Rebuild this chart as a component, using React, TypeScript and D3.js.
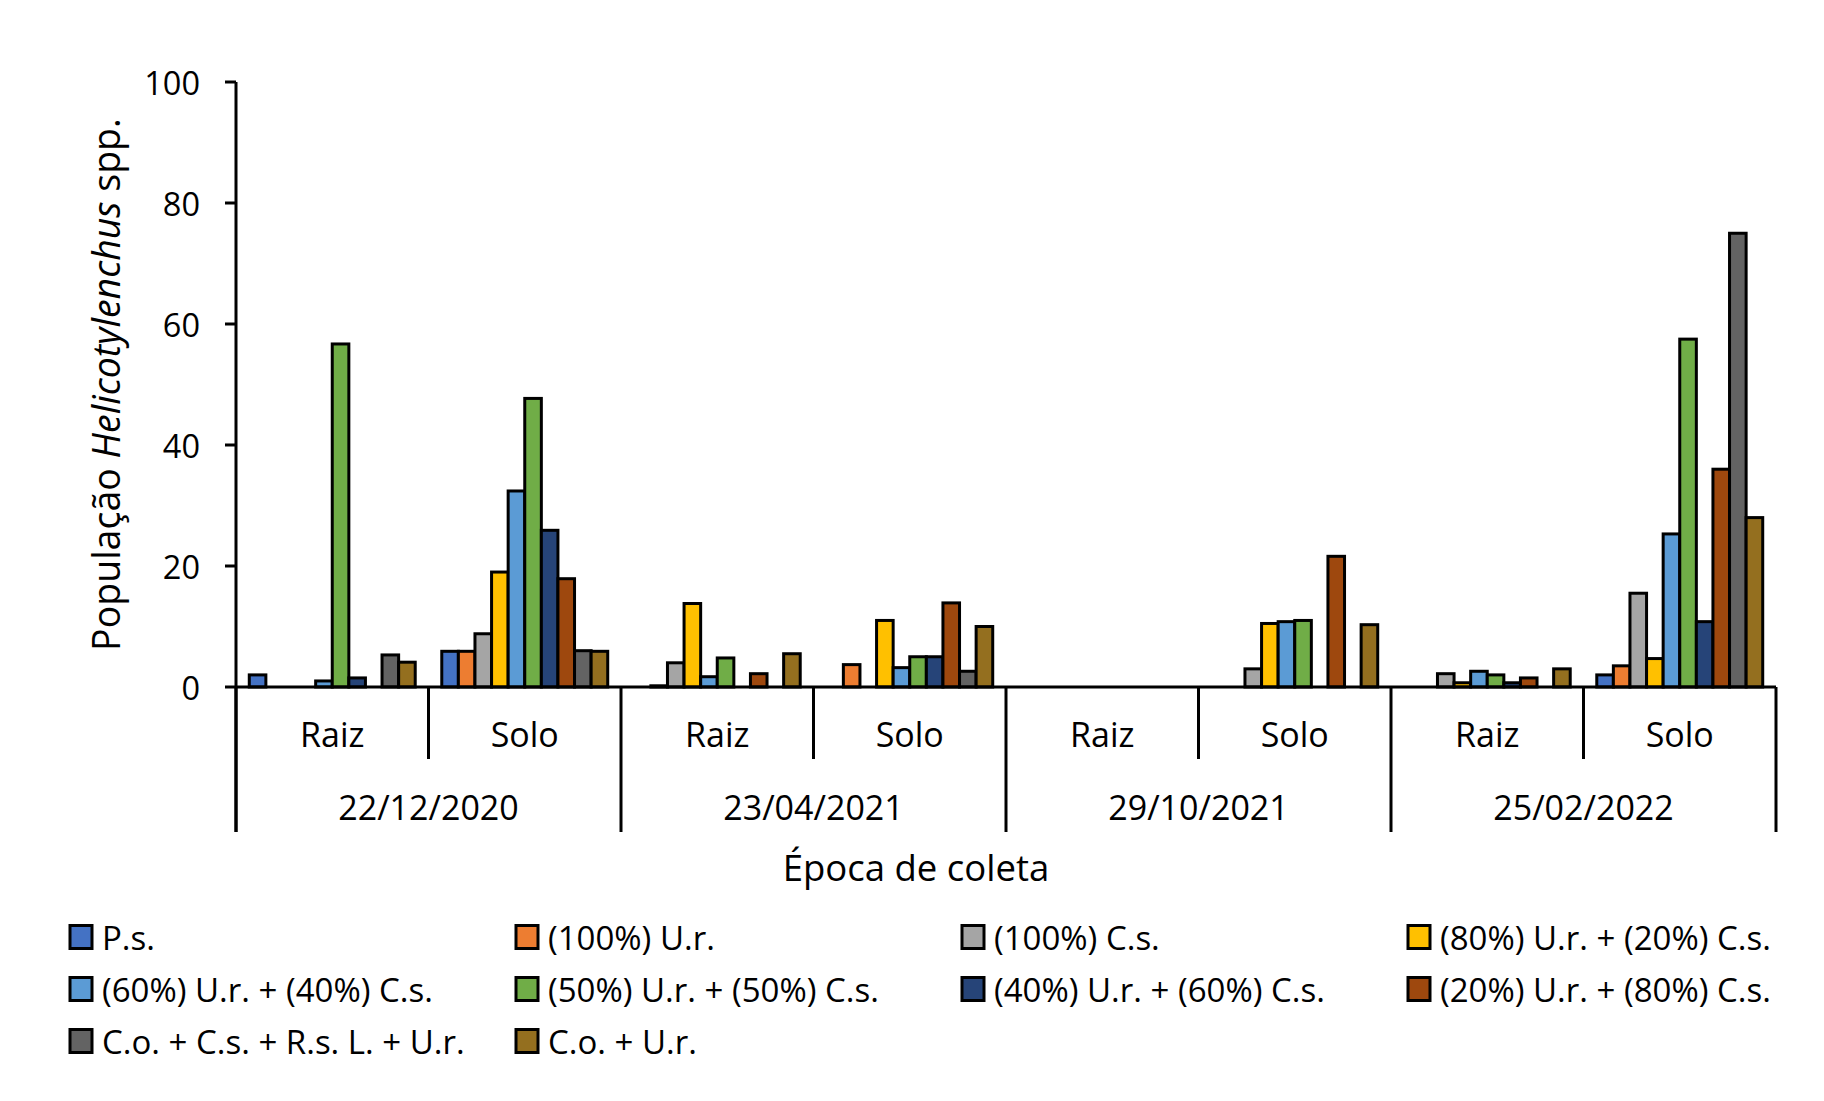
import { useEffect } from 'react';
import * as d3 from 'd3';

// categories
const dates = ['22/12/2020', '23/04/2021', '29/10/2021', '25/02/2022'];
const parts = ['Raiz', 'Solo'];
const yTicks = [0, 20, 40, 60, 80, 100];

// series (one value per date x part: R1, S1, R2, S2, R3, S3, R4, S4)
const seriesNames = [
  'P.s.',
  '(100%) U.r.',
  '(100%) C.s.',
  '(80%) U.r. + (20%) C.s.',
  '(60%) U.r. + (40%) C.s.',
  '(50%) U.r. + (50%) C.s.',
  '(40%) U.r. + (60%) C.s.',
  '(20%) U.r. + (80%) C.s.',
  'C.o. + C.s. + R.s. L. + U.r.',
  'C.o. + U.r.'
];
const seriesColors = [
  '#4472C4',
  '#ED7D31',
  '#A5A5A5',
  '#FFC000',
  '#5B9BD5',
  '#70AD47',
  '#264478',
  '#9E480E',
  '#636363',
  '#946F1F'
];
const psValues = [2, 5.9, 0, 0, 0, 0, 0, 2];
const ur100Values = [0, 5.9, 0.2, 3.7, 0, 0, 0, 3.5];
const cs100Values = [0, 8.8, 4, 0, 0, 3, 2.2, 15.5];
const ur80Values = [0, 19, 13.8, 11, 0, 10.5, 0.7, 4.7];
const ur60Values = [1, 32.4, 1.7, 3.2, 0, 10.8, 2.6, 25.3];
const ur50Values = [56.7, 47.7, 4.8, 5, 0, 11, 2, 57.5];
const ur40Values = [1.5, 25.9, 0, 5, 0, 0, 0.7, 10.8];
const ur20Values = [0, 17.9, 2.2, 13.9, 0, 21.6, 1.5, 36];
const coMixValues = [5.3, 6, 0, 2.6, 0, 0, 0, 75];
const coUrValues = [4.1, 5.9, 5.5, 10, 0, 10.3, 3, 28];

const seriesValues = [
  psValues,
  ur100Values,
  cs100Values,
  ur80Values,
  ur60Values,
  ur50Values,
  ur40Values,
  ur20Values,
  coMixValues,
  coUrValues
];

const FONT = "'Open Sans', 'Noto Sans', sans-serif";

export default function App() {
  useEffect(() => {
    document.body.style.margin = '0';
  }, []);

  const W = 1824;
  const H = 1101;
  const left = 236;
  const right = 1776;
  const top = 82;
  const zeroY = 687;

  const cats = d3.range(dates.length * parts.length);

  const x0 = d3
    .scaleBand<number>()
    .domain(cats)
    .range([left, right])
    .paddingInner(0)
    .paddingOuter(0);

  const x1 = d3
    .scaleBand<string>()
    .domain(seriesNames)
    .range([0, x0.bandwidth()])
    .paddingInner(0)
    .paddingOuter(0.8);

  const y = d3.scaleLinear().domain([0, 100]).range([zeroY, top]);

  const bars: { x: number; y: number; w: number; h: number; color: string; key: string }[] = [];
  seriesValues.forEach((vals, si) => {
    vals.forEach((v, ci) => {
      if (v <= 0) return;
      bars.push({
        key: `${si}-${ci}`,
        x: (x0(ci) as number) + (x1(seriesNames[si]) as number),
        y: y(v),
        w: x1.bandwidth(),
        h: y(0) - y(v),
        color: seriesColors[si]
      });
    });
  });

  const legendCols = 4;

  return (
    <svg width={W} height={H} style={{ display: 'block', background: '#fff' }} fontFamily={FONT}>
      <rect x={0} y={0} width={W} height={H} fill="#fff" />

      {/* bars */}
      {bars.map((b) => (
        <rect
          key={b.key}
          x={b.x}
          y={b.y}
          width={b.w}
          height={b.h}
          fill={b.color}
          stroke="#000"
          strokeWidth={3}
        />
      ))}

      {/* y axis */}
      <line x1={left} x2={left} y1={y(100)} y2={832} stroke="#000" strokeWidth={3} />
      {yTicks.map((t) => (
        <g key={t}>
          <line x1={left - 11} x2={left} y1={y(t)} y2={y(t)} stroke="#000" strokeWidth={3} />
          <text
            x={left - 36}
            y={y(t)}
            textAnchor="end"
            dominantBaseline="central"
            fontSize={32.5}
            fill="#000"
          >
            {t}
          </text>
        </g>
      ))}

      {/* x axis */}
      <line x1={left} x2={right} y1={zeroY} y2={zeroY} stroke="#000" strokeWidth={3} />
      {cats.map((c) => (
        <line
          key={`sep-${c}`}
          x1={x0(c) as number}
          x2={x0(c) as number}
          y1={zeroY}
          y2={c % 2 === 0 ? 832 : 759}
          stroke="#000"
          strokeWidth={3}
        />
      ))}
      <line x1={right} x2={right} y1={zeroY} y2={832} stroke="#000" strokeWidth={3} />

      {cats.map((c) => (
        <text
          key={`part-${c}`}
          x={(x0(c) as number) + x0.bandwidth() / 2}
          y={747}
          textAnchor="middle"
          fontSize={34}
          fill="#000"
        >
          {parts[c % 2]}
        </text>
      ))}
      {dates.map((d, i) => (
        <text
          key={d}
          x={x0(i * 2 + 1) as number}
          y={820}
          textAnchor="middle"
          fontSize={34}
          fill="#000"
        >
          {d}
        </text>
      ))}

      {/* axis titles */}
      <text
        transform={`translate(105,${(top + zeroY) / 2}) rotate(-90)`}
        textAnchor="middle"
        dominantBaseline="central"
        fontSize={37.5}
        fill="#000"
      >
        População <tspan fontStyle="italic">Helicotylenchus</tspan> spp.
      </text>
      <text x={916} y={881} textAnchor="middle" fontSize={36.5} fill="#000">
        Época de coleta
      </text>

      {/* legend */}
      {seriesNames.map((name, i) => {
        const col = i % legendCols;
        const row = Math.floor(i / legendCols);
        const lx = 70 + col * 446;
        const ly = 937 + row * 52;
        return (
          <g key={name}>
            <rect
              x={lx}
              y={ly - 11.5}
              width={22}
              height={23}
              fill={seriesColors[i]}
              stroke="#000"
              strokeWidth={3}
            />
            <text x={lx + 32} y={ly} dominantBaseline="central" fontSize={33} fill="#000">
              {name}
            </text>
          </g>
        );
      })}
    </svg>
  );
}
